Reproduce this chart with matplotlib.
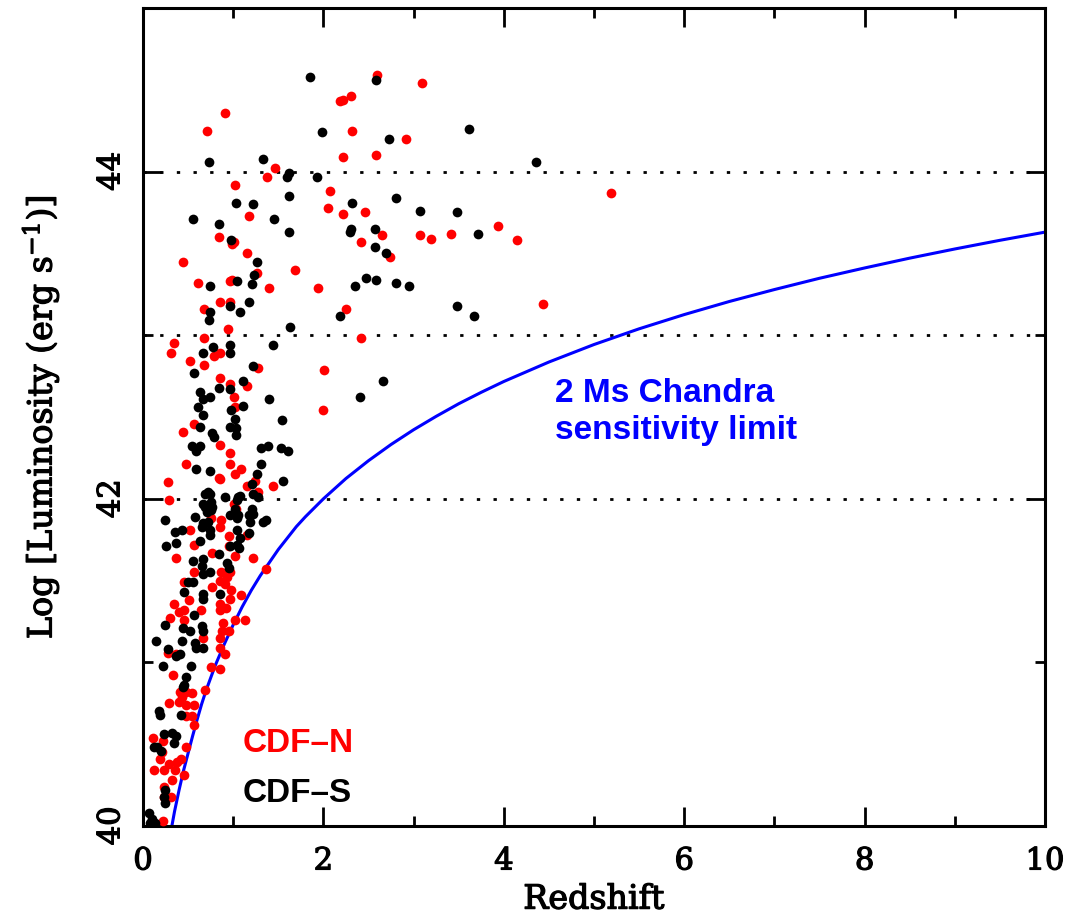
import numpy as np
import matplotlib
matplotlib.use("Agg")
import matplotlib.pyplot as plt
import matplotlib.patheffects as pe
from matplotlib.ticker import MultipleLocator

plt.rcParams['mathtext.fontset'] = 'dejavuserif'

# CDF-S sources (redshift, log L)
cdfs_z = [1.85, 2.58, 1.99, 2.73, 3.61, 4.36, 1.62, 1.60, 1.93, 1.62, 2.32, 2.81, 3.07, 3.48,
          1.62, 2.31, 2.30, 2.57, 3.71, 2.57, 2.69, 2.47, 2.58, 2.35, 2.81, 2.95, 3.48, 3.67,
          2.18, 1.63, 2.66, 2.41,
          0.735, 1.33, 1.03, 1.22, 0.55, 0.84, 1.45, 0.98, 1.26, 1.23, 0.74, 1.04, 1.21, 1.17, 0.97,
          0.74, 0.735, 1.07, 0.78, 0.67, 0.96, 0.96, 1.44, 0.57, 1.22, 1.11, 0.84, 0.96, 0.63, 0.66,
          0.74, 1.40, 0.61, 1.11, 0.98, 0.67, 1.02, 1.54, 0.63, 0.96, 1.03, 0.77, 0.79, 1.03, 0.54,
          0.59, 0.63, 1.31, 1.39, 1.53, 1.61, 1.31, 0.59, 0.74, 1.26, 1.55, 1.21, 1.22, 1.28, 0.72,
          0.74, 0.69, 0.91, 1.05, 1.07, 0.67, 0.75, 0.69, 0.76, 0.71, 0.75, 1.02, 1.04, 1.21, 1.22,
          0.58, 0.24, 0.96, 1.04, 1.05, 1.19, 1.17, 1.33, 1.36, 0.67, 0.72, 0.65, 0.35, 0.43, 0.74,
          0.74, 1.04, 1.17, 0.37, 0.63, 0.25, 0.97, 1.08,
          1.04, 1.06, 0.84, 0.55, 0.66, 0.65, 0.93, 0.95, 0.74, 0.67, 0.50, 0.55, 0.45, 0.67, 0.67,
          0.85, 0.56, 0.24, 0.44, 0.65, 0.67, 0.52, 0.14, 0.43, 0.58, 0.59, 0.67, 0.28, 0.37, 0.41,
          0.22, 0.53, 0.48, 0.45, 0.44, 0.18, 0.19, 0.42, 0.23, 0.32, 0.37, 0.34, 0.12, 0.15, 0.20,
          0.24, 0.23, 0.24, 0.07, 0.10, 0.13, 0.08]
cdfs_L = [44.58, 44.56, 44.24, 44.20, 44.26, 44.06, 43.99, 43.97, 43.97, 43.85, 43.81, 43.84, 43.76, 43.75,
          43.63, 43.65, 43.63, 43.65, 43.62, 43.54, 43.50, 43.35, 43.34, 43.30, 43.32, 43.30, 43.18, 43.12,
          43.12, 43.05, 42.72, 42.62,
          44.06, 44.08, 43.81, 43.80, 43.71, 43.68, 43.71, 43.58, 43.45, 43.37, 43.30, 43.33, 43.31, 43.20, 43.18,
          43.14, 43.09, 43.14, 42.93, 42.89, 42.94, 42.89, 42.94, 42.77, 42.81, 42.72, 42.68, 42.67, 42.65, 42.61,
          42.62, 42.61, 42.56, 42.57, 42.54, 42.51, 42.49, 42.48, 42.44, 42.44, 42.43, 42.40, 42.38, 42.39, 42.32,
          42.29, 42.32, 42.31, 42.32, 42.31, 42.29, 42.21, 42.18, 42.17, 42.15, 42.11, 42.09, 42.03, 42.01, 42.04,
          42.03, 42.03, 42.01, 42.01, 42.02, 41.97, 41.98, 41.95, 41.95, 41.92, 41.93, 41.94, 41.99, 41.94, 41.91,
          41.89, 41.87, 41.90, 41.88, 41.90, 41.86, 41.90, 41.86, 41.87, 41.85, 41.86, 41.83, 41.80, 41.81, 41.81,
          41.78, 41.81, 41.79, 41.73, 41.74, 41.71, 41.71, 41.76,
          41.72, 41.70, 41.66, 41.62, 41.63, 41.59, 41.61, 41.58, 41.55, 41.54, 41.49, 41.49, 41.43, 41.42, 41.39,
          41.42, 41.29, 41.23, 41.21, 41.22, 41.19, 41.19, 41.13, 41.13, 41.12, 41.09, 41.09, 41.08, 41.04, 41.05,
          40.98, 40.98, 40.91, 40.86, 40.85, 40.70, 40.68, 40.68, 40.56, 40.57, 40.55, 40.51, 40.48, 40.48, 40.46,
          40.22, 40.18, 40.14, 40.08, 40.04, 40.02, 40.02]

# CDF-N sources
cdfn_z = [2.59, 3.09, 2.18, 2.22, 2.31, 2.32, 2.92, 2.22, 2.58, 5.19, 2.07, 2.05, 2.22, 2.46, 2.65,
          2.42, 3.07, 3.19, 3.41, 3.94, 4.15, 2.74, 1.68, 1.94, 2.25, 4.43, 2.42, 2.01, 2.00,
          0.91, 0.71, 1.46, 1.38, 1.02, 1.17, 0.84, 1.01, 0.99, 1.15, 0.44, 1.26, 0.61, 0.96, 0.99,
          1.40, 0.85, 0.96, 0.68,
          0.94, 0.68, 0.34, 0.31, 0.85, 0.79, 0.52, 0.68, 1.27, 0.85, 0.96, 1.15, 1.01, 1.02, 0.56,
          0.44, 0.85, 0.96, 0.48, 0.96, 1.09, 1.02, 0.84, 0.85, 0.28, 1.24, 1.44, 1.15, 1.28, 0.29,
          1.01, 1.03, 0.75, 0.87, 0.85, 0.52, 0.95, 1.15, 0.57, 0.95,
          0.37, 0.76, 1.02, 1.22, 1.36, 0.56, 0.87, 0.93, 0.96, 0.85, 0.91, 0.45, 0.77, 0.98, 0.34,
          0.51, 0.85, 0.85, 0.92, 0.96, 1.09, 0.40, 0.45, 0.64, 0.30, 0.46, 1.02, 1.13, 0.89, 0.95,
          0.88, 0.67, 0.85, 0.28, 0.37, 0.85, 0.91, 0.75, 0.85, 0.33, 0.41, 0.48, 0.54, 0.43, 0.69,
          0.29, 0.40, 0.48, 0.57, 0.48, 0.54, 0.56, 0.11, 0.22, 0.21, 0.19, 0.48, 0.42, 0.38, 0.29,
          0.12, 0.23, 0.35, 0.32, 0.46, 0.23, 0.31, 0.23, 0.22]
cdfn_L = [44.59, 44.54, 44.43, 44.44, 44.46, 44.25, 44.20, 44.09, 44.10, 43.87, 43.88, 43.78, 43.74, 43.75, 43.61,
          43.57, 43.61, 43.59, 43.62, 43.67, 43.58, 43.48, 43.40, 43.29, 43.16, 43.19, 42.98, 42.79, 42.54,
          44.36, 44.25, 44.02, 43.97, 43.92, 43.73, 43.60, 43.57, 43.56, 43.50, 43.45, 43.38, 43.32, 43.33, 43.34,
          43.29, 43.20, 43.20, 43.16,
          43.04, 42.98, 42.95, 42.89, 42.89, 42.87, 42.84, 42.82, 42.80, 42.74, 42.70, 42.69, 42.62, 42.56, 42.46,
          42.41, 42.33, 42.28, 42.21, 42.21, 42.18, 42.15, 42.13, 42.12, 42.10, 42.11, 42.08, 42.08, 42.04, 41.99,
          41.97, 41.94, 41.88, 41.87, 41.83, 41.81, 41.77, 41.78, 41.72, 41.71,
          41.64, 41.67, 41.65, 41.64, 41.57, 41.55, 41.55, 41.52, 41.55, 41.50, 41.48, 41.49, 41.46, 41.44, 41.36,
          41.38, 41.36, 41.32, 41.33, 41.39, 41.41, 41.31, 41.32, 41.32, 41.27, 41.26, 41.26, 41.26, 41.24, 41.19,
          41.19, 41.15, 41.15, 41.06, 41.05, 41.09, 41.05, 40.97, 40.96, 40.92, 40.82, 40.82, 40.81, 40.79, 40.83,
          40.75, 40.76, 40.74, 40.74, 40.67, 40.67, 40.62, 40.54, 40.52, 40.45, 40.41, 40.48, 40.41, 40.39, 40.38,
          40.34, 40.34, 40.34, 40.28, 40.31, 40.24, 40.18, 40.18, 40.03]

# 2 Ms Chandra sensitivity limit
limit_z = [0.32, 0.35, 0.4, 0.45, 0.5, 0.55, 0.6, 0.65, 0.7, 0.75, 0.8, 0.85, 0.9, 0.95, 1.0,
           1.1, 1.2, 1.3, 1.4, 1.5, 1.6, 1.7, 1.8, 1.9, 2.0, 2.25, 2.5, 2.75, 3.0, 3.25, 3.5,
           3.75, 4.0, 4.5, 5.0, 5.5, 6.0, 6.5, 7.0, 7.5, 8.0, 8.5, 9.0, 9.5, 10.0]
limit_L = [40.0, 40.09, 40.22, 40.34, 40.445, 40.55, 40.65, 40.745, 40.83, 40.905, 40.98, 41.045,
           41.11, 41.17, 41.23, 41.34, 41.44, 41.53, 41.61, 41.69, 41.76, 41.83, 41.89, 41.945,
           42.0, 42.124, 42.233, 42.332, 42.422, 42.504, 42.581, 42.651, 42.717, 42.836, 42.943,
           43.039, 43.126, 43.206, 43.279, 43.348, 43.411, 43.471, 43.527, 43.58, 43.63]

fig = plt.figure(figsize=(10.7, 9.18), dpi=100)
ax = fig.add_axes([143/1070, 92/918, 902/1070, 818/918])

for yv in [42, 43, 44]:
    ax.axhline(yv, color='black', lw=2, linestyle=(0, (1.2, 4.8)), zorder=1)

ax.plot(limit_z, limit_L, color='blue', lw=2.2, zorder=2)
ax.plot(cdfn_z, cdfn_L, 'o', color='red', ms=7, mec='none', zorder=3)
ax.plot(cdfs_z, cdfs_L, 'o', color='black', ms=7, mec='none', zorder=4)

ax.set_xlim(0, 10)
ax.set_ylim(40, 45)
ax.xaxis.set_major_locator(MultipleLocator(2))
ax.xaxis.set_minor_locator(MultipleLocator(1))
ax.set_yticks([40, 42, 44])
ax.yaxis.set_minor_locator(MultipleLocator(1))
ax.tick_params(which='both', direction='in', top=True, right=True, width=2)
ax.tick_params(which='major', length=14)
ax.tick_params(which='minor', length=7)
ax.tick_params(axis='x', pad=14)
ax.tick_params(axis='y', pad=12)
for s in ax.spines.values():
    s.set_linewidth(2.2)

thick = [pe.withStroke(linewidth=0.9, foreground='black')]
for lab in ax.get_xticklabels():
    lab.set_fontfamily('DejaVu Serif')
    lab.set_fontsize(22)
    lab.set_path_effects(thick)
for lab in ax.get_yticklabels():
    lab.set_fontfamily('DejaVu Serif')
    lab.set_fontsize(22)
    lab.set_rotation(90)
    lab.set_va('center')
    lab.set_path_effects(thick)

ax.set_xlabel('Redshift', family='DejaVu Serif', fontsize=24, va='center', path_effects=thick)
ax.xaxis.set_label_coords(0.5, -0.09)
ax.set_ylabel(r'Log [Luminosity (erg s$^{-1}$)]', family='DejaVu Serif', fontsize=24,
              va='center', path_effects=thick)
ax.yaxis.set_label_coords(-0.114, 0.5)

ax.text(4.57, 42.593, '2 Ms Chandra', color='blue', fontsize=24, fontweight='bold',
        family='Liberation Sans', va='baseline')
ax.text(4.57, 42.367, 'sensitivity limit', color='blue', fontsize=24, fontweight='bold',
        family='Liberation Sans', va='baseline')
ax.text(1.109, 40.45, 'CDF\u2013N', color='red', fontsize=24, fontweight='bold',
        family='Liberation Sans', va='baseline')
ax.text(1.109, 40.147, 'CDF\u2013S', color='black', fontsize=24, fontweight='bold',
        family='Liberation Sans', va='baseline')

fig.savefig('out.png', dpi=100)
